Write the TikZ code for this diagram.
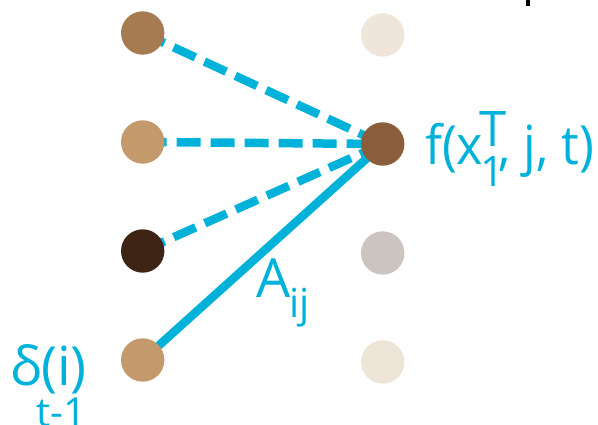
\documentclass[tikz,border=0pt]{standalone}
\usepackage{fontspec}
\setmainfont{Open Sans}
\newfontfamily\narrowfont[FakeStretch=0.93]{Open Sans}
\usetikzlibrary{backgrounds}
\definecolor{cblue}{HTML}{00B2D9}
\definecolor{cA}{HTML}{A77B52}
\definecolor{cB}{HTML}{C49A6C}
\definecolor{cC}{HTML}{3E2415}
\definecolor{cD}{HTML}{C39A6B}
\definecolor{cE}{HTML}{EFE5DA}
\definecolor{cF}{HTML}{8A5D3B}
\definecolor{cG}{HTML}{CCC4C1}
\definecolor{cH}{HTML}{EEE5D9}
\tikzset{
  dot/.style={circle, minimum size=43.4pt, inner sep=0pt, draw=none},
  dashlink/.style={cblue, line width=8.5pt, dash pattern=on 24pt off 10pt},
  solidlink/.style={cblue, line width=8.5pt},
  lab/.style={text=cblue, anchor=base west, inner sep=0pt, outer sep=0pt},
}
\begin{document}
\begin{tikzpicture}[x=1pt, y=-1pt]
\useasboundingbox (0,0) rectangle (598,425);
\node[dot, fill=cA] (L1) at (142.7,33) {};
\node[dot, fill=cB] (L2) at (142.7,142) {};
\node[dot, fill=cC] (L3) at (142.7,251) {};
\node[dot, fill=cD] (L4) at (142.7,360) {};
\node[dot, fill=cE] (R1) at (382.7,35) {};
\node[dot, fill=cF] (R2) at (382.7,144) {};
\node[dot, fill=cG] (R3) at (382.7,253) {};
\node[dot, fill=cH] (R4) at (382.7,362) {};
\begin{scope}[on background layer]
\draw[dashlink] (L1.center) -- (R2.center);
\draw[dashlink] (L2.center) -- (R2.center);
\draw[dashlink] (L3.center) -- (R2.center);
\draw[solidlink] (L4.center) -- (R2.center);
\end{scope}
% labels
\node[lab, font=\narrowfont\fontsize{54}{54}\selectfont] (fx) at (425,165) {f(x};
\node[lab, font=\fontsize{49}{49}\selectfont] (fT) at (479,147) {T};
\node[lab, font=\fontsize{42}{42}\selectfont] (f1) at (480,187) {1};
\node[lab, font=\narrowfont\fontsize{54}{54}\selectfont] (frest) at (498,165) {, j, t)};
\node[lab, font=\fontsize{54}{54}\selectfont] (A) at (256,298) {A};
\node[lab, font=\fontsize{40}{40}\selectfont] (ij) at (289,318) {ij};
\node[lab, font=\fontsize{54}{54}\selectfont] (delta) at (10,385) {δ(i)};
\node[lab, font=\fontsize{40}{40}\selectfont] (tm1) at (36,426) {t-1};
\fill[black] (525.5,0) rectangle (529.5,6);
\end{tikzpicture}
\end{document}
